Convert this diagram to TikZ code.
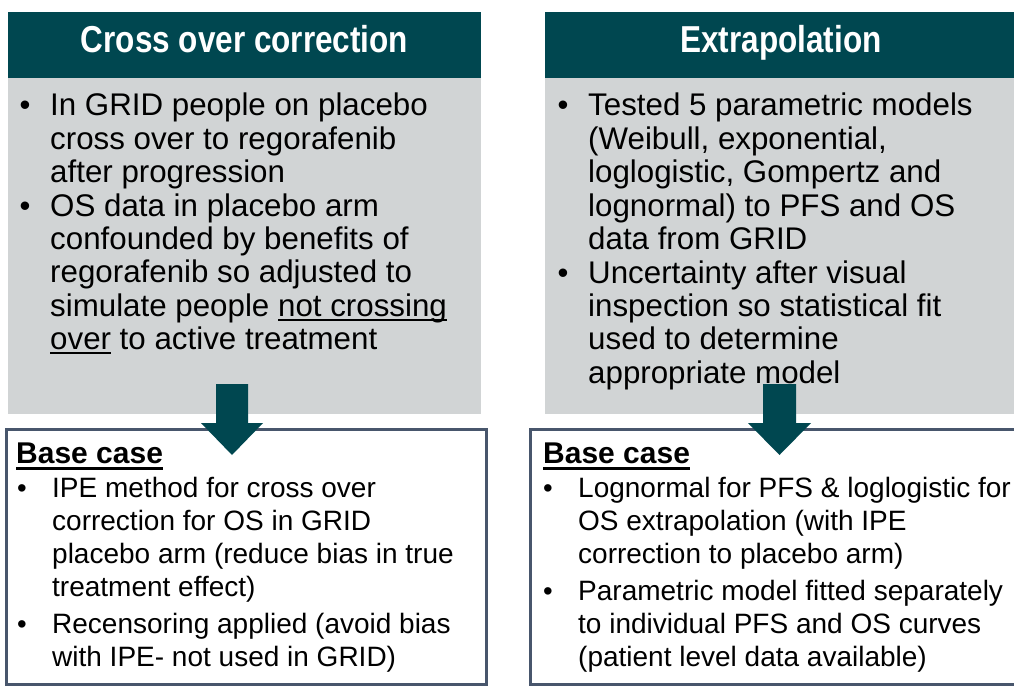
\documentclass[tikz,border=0pt]{standalone}
\usepackage{fontspec}
\setmainfont{Liberation Sans}
\newfontfamily\headfont[FakeStretch=0.84]{Liberation Sans}
\definecolor{hdteal}{RGB}{0,71,80}
\definecolor{panelgray}{RGB}{209,212,213}
\definecolor{boxrim}{RGB}{72,86,108}
\newcommand\myul[1]{\leavevmode\setbox0\hbox{#1}\rlap{\rule[-4.5pt]{\wd0}{1.8pt}}\box0\relax}
\newcommand\baseul[1]{\leavevmode\setbox0\hbox{#1}\rlap{\rule[-7pt]{\wd0}{2.6pt}}\box0\relax}
\newcommand\blk[1]{\parbox[t]{600pt}{\raggedright #1}}
\begin{document}
\begin{tikzpicture}[x=1pt,y=-1pt,
  header/.style={rectangle,fill=hdteal,inner sep=0pt,outer sep=0pt,anchor=north west},
  headtext/.style={inner sep=0pt,anchor=base,text=white,font=\headfont\bfseries\fontsize{37.5}{40}\selectfont},
  panel/.style={rectangle,fill=panelgray,inner sep=0pt,outer sep=0pt,anchor=north west},
  basebox/.style={rectangle,draw=boxrim,line width=3pt,fill=white,inner sep=0pt,anchor=north west},
  toptext/.style={anchor=base west,inner sep=0pt,font=\fontsize{31.3}{33.4}\selectfont,text=black},
  topbul/.style={anchor=base,inner sep=0pt,font=\fontsize{31}{33.4}\selectfont,text=black},
  bottext/.style={anchor=base west,inner sep=0pt,font=\fontsize{28}{33.1}\selectfont,text=black},
  botbul/.style={anchor=base,inner sep=0pt,font=\fontsize{27.5}{33.1}\selectfont,text=black},
  basetitle/.style={anchor=base west,inner sep=0pt,font=\bfseries\fontsize{30}{34}\selectfont,text=black},
  blockarrow/.style={fill=hdteal}]
\useasboundingbox (0,0) rectangle (1014,687);
\fill[white] (0,0) rectangle (1014,687);

% panels
\node[panel,minimum width=473pt,minimum height=336pt] (g1) at (8,78) {};
\node[panel,minimum width=469pt,minimum height=336pt] (g2) at (545,78) {};
\node[header,minimum width=473pt,minimum height=66pt] (h1) at (8,12) {};
\node[header,minimum width=469pt,minimum height=66pt] (h2) at (545,12) {};
\node[headtext] (h1t) at (244.5,53) {Cross over correction};
\node[headtext] (h2t) at (781,53) {Extrapolation};

% base case boxes
\node[basebox,minimum width=480pt,minimum height=255pt] (c1) at (5,428) {};
\node[basebox,minimum width=490pt,minimum height=255pt] (c2) at (529,428) {};

% arrows
\fill[blockarrow] (216,384) -- (248,384) -- (248,423) -- (263,423) -- (232,455)
  -- (201,423) -- (216,423) -- cycle;
\fill[blockarrow] (763,384) -- (796,384) -- (796,423) -- (811,423) -- (779.5,455)
  -- (748,423) -- (763,423) -- cycle;

% top-left text
\node[topbul] (lb1) at (25,116) {\textbullet};
\node[toptext] (lt1) at (50,116) {\blk{In GRID people on placebo\\cross over to regorafenib\\after progression}};
\node[topbul] (lb2) at (25,216.2) {\textbullet};
\node[toptext] (lt2) at (50,216.2) {\blk{OS data in placebo arm\\confounded by benefits of\\regorafenib so adjusted to\\simulate people \myul{not crossing}\\\myul{over} to active treatment}};

% top-right text
\node[topbul] (rb1) at (563,116) {\textbullet};
\node[toptext] (rt1) at (588,116) {\blk{Tested 5 parametric models\\(Weibull, exponential,\\loglogistic, Gompertz and\\lognormal) to PFS and OS\\data from GRID}};
\node[topbul] (rb2) at (563,283) {\textbullet};
\node[toptext] (rt2) at (588,283) {\blk{Uncertainty after visual\\inspection so statistical fit\\used to determine\\appropriate model}};

% bottom-left text
\node[basetitle] (bt1) at (16,463) {\baseul{Base case}};
\node[botbul] (lc1) at (22,497) {\textbullet};
\node[bottext] (lx1) at (52,497) {\blk{IPE method for cross over\\correction for OS in GRID\\placebo arm (reduce bias in true\\treatment effect)}};
\node[botbul] (lc2) at (22,633) {\textbullet};
\node[bottext] (lx2) at (52,633) {\blk{Recensoring applied (avoid bias\\with IPE- not used in GRID)}};

% bottom-right text
\node[basetitle] (bt2) at (543,463) {\baseul{Base case}};
\node[botbul] (rc1) at (548,497) {\textbullet};
\node[bottext] (rx1) at (578,497) {\blk{Lognormal for PFS \& loglogistic for\\OS extrapolation (with IPE\\correction to placebo arm)}};
\node[botbul] (rc2) at (548,600) {\textbullet};
\node[bottext] (rx2) at (578,600) {\blk{Parametric model fitted separately\\to individual PFS and OS curves\\(patient level data available)}};
\end{tikzpicture}
\end{document}
